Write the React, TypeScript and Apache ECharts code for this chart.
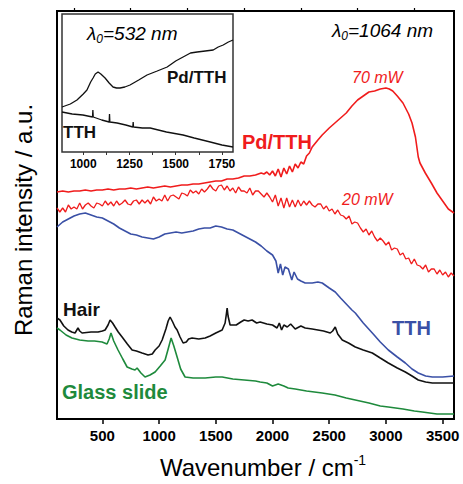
import React, { useEffect, useRef } from "react";
import * as echarts from "echarts";

const FONT = "'Liberation Sans', Arial, Helvetica, sans-serif";

// Main panel axis
const mainTickLabels = [500, 1000, 1500, 2000, 2500, 3000, 3500];
const mainMinorTicks = [250, 750, 1250, 1750, 2250, 2750, 3250];
// Inset axis
const insetTickLabels = [1000, 1250, 1500, 1750];
const insetTicks = [1000, 1125, 1250, 1375, 1500, 1625, 1750];

// Main spectra, λ0 = 1064 nm  [wavenumber, intensity (a.u.)]
const pdTth70mW = [
  [100, 227], [150, 228], [200, 227], [250, 228], [300, 228], [350, 229], [400, 228], [450, 229],
  [500, 229], [550, 230], [600, 229], [650, 230], [700, 230], [750, 231], [800, 230], [850, 231],
  [900, 232], [950, 231], [1000, 232], [1050, 233], [1100, 232], [1150, 233], [1200, 234], [1250, 234],
  [1300, 235], [1350, 235], [1400, 236], [1450, 237], [1500, 238], [1550, 238], [1600, 240], [1650, 240],
  [1700, 241], [1750, 243], [1800, 243], [1850, 244], [1900, 246], [1925, 245], [1950, 247], [1975, 244],
  [2000, 248], [2025, 243], [2050, 250], [2075, 242], [2100, 251], [2125, 245], [2150, 253], [2175, 247],
  [2200, 255], [2225, 251], [2250, 257], [2275, 255], [2300, 263], [2325, 266], [2350, 272], [2400, 279],
  [2438, 284], [2500, 291], [2580, 299], [2650, 306], [2700, 313], [2750, 319], [2800, 323], [2850, 327],
  [2900, 328], [2950, 330], [3000, 331], [3030, 330], [3060, 328], [3100, 323], [3150, 316], [3200, 305],
  [3230, 296], [3260, 282], [3285, 262], [3300, 256], [3347, 246], [3400, 236], [3450, 226], [3500, 218],
  [3550, 210], [3600, 206],
];
const pdTth20mW = [
  [100, 211], [125, 207], [150, 211], [175, 207], [200, 214], [225, 210], [250, 212], [275, 210],
  [300, 216], [325, 210], [350, 214], [375, 216], [400, 213], [425, 211], [450, 216], [475, 215],
  [500, 213], [525, 218], [550, 214], [575, 217], [600, 213], [625, 218], [650, 214], [675, 216],
  [700, 219], [725, 215], [750, 214], [775, 218], [800, 219], [825, 215], [850, 219], [875, 216],
  [900, 219], [925, 215], [950, 222], [975, 218], [1000, 220], [1025, 218], [1050, 224], [1075, 218],
  [1100, 223], [1125, 224], [1150, 222], [1175, 220], [1200, 226], [1225, 225], [1250, 223], [1275, 229],
  [1300, 226], [1325, 228], [1350, 225], [1375, 230], [1400, 227], [1425, 230], [1450, 234], [1475, 230],
  [1500, 228], [1525, 233], [1550, 234], [1575, 229], [1600, 233], [1625, 228], [1650, 231], [1675, 226],
  [1700, 232], [1725, 228], [1750, 228], [1775, 226], [1800, 231], [1825, 224], [1850, 228], [1875, 228],
  [1900, 225], [1925, 222], [1950, 226], [1975, 222], [2000, 217], [2025, 224], [2050, 213], [2075, 221],
  [2100, 211], [2125, 221], [2150, 212], [2175, 219], [2200, 212], [2225, 219], [2250, 213], [2275, 218],
  [2300, 214], [2325, 218], [2350, 214], [2375, 212], [2400, 215], [2425, 215], [2450, 210], [2475, 213],
  [2500, 208], [2525, 210], [2550, 205], [2575, 209], [2600, 204], [2625, 203], [2650, 200], [2675, 203],
  [2700, 195], [2725, 197], [2750, 196], [2775, 191], [2800, 187], [2825, 190], [2850, 184], [2875, 188],
  [2900, 182], [2925, 178], [2950, 181], [2975, 178], [3000, 174], [3025, 177], [3050, 169], [3075, 171],
  [3100, 170], [3125, 164], [3150, 166], [3175, 160], [3200, 161], [3225, 155], [3250, 160], [3275, 154],
  [3300, 153], [3325, 150], [3350, 154], [3375, 147], [3400, 150], [3425, 150], [3450, 145], [3475, 149],
  [3500, 144], [3525, 147], [3550, 142], [3575, 146], [3600, 143],
];
const tth = [
  [100, 192], [150, 197], [200, 200], [250, 203], [300, 205], [350, 206], [400, 204], [450, 202],
  [500, 201], [550, 198], [600, 195], [650, 191], [700, 188], [750, 185], [800, 184], [850, 182],
  [900, 181], [950, 180], [1000, 182], [1050, 185], [1100, 186], [1150, 187], [1200, 186], [1250, 187],
  [1300, 188], [1350, 190], [1400, 191], [1450, 191], [1500, 193], [1550, 192], [1600, 190], [1650, 189],
  [1700, 186], [1750, 183], [1800, 180], [1850, 177], [1900, 173], [1950, 168], [2000, 164], [2030, 158],
  [2050, 146], [2070, 155], [2090, 144], [2110, 152], [2140, 150], [2170, 139], [2190, 147], [2220, 140],
  [2250, 138], [2288, 136], [2350, 136], [2400, 137], [2438, 136], [2500, 131], [2553, 127], [2600, 121],
  [2650, 115], [2700, 109], [2730, 106], [2800, 96], [2880, 86], [2950, 77], [3021, 69], [3100, 62],
  [3171, 56], [3230, 50], [3285, 46], [3350, 43], [3409, 42], [3500, 42], [3600, 43],
];
const hair = [
  [100, 101], [126, 99], [160, 93], [197, 89], [230, 87], [259, 86], [285, 91], [300, 88], [321, 86],
  [400, 87], [462, 87], [500, 88], [524, 89], [550, 94], [568, 99], [590, 96], [612, 92], [640, 87],
  [674, 82], [720, 75], [762, 69], [800, 68], [850, 66], [903, 64], [940, 65], [965, 69], [1000, 73],
  [1027, 79], [1060, 90], [1080, 98], [1097, 102], [1120, 97], [1140, 92], [1159, 89], [1185, 82],
  [1212, 76], [1240, 77], [1260, 80], [1291, 81], [1350, 80], [1406, 81], [1450, 83], [1500, 86],
  [1556, 89], [1582, 96], [1592, 104], [1600, 111], [1608, 103], [1626, 94], [1680, 94], [1720, 97],
  [1750, 99], [1785, 98], [1820, 99], [1860, 96], [1891, 97], [1950, 95], [2000, 94], [2040, 91],
  [2060, 96], [2080, 89], [2100, 94], [2130, 92], [2160, 95], [2200, 90], [2250, 93], [2288, 91],
  [2350, 90], [2400, 89], [2450, 88], [2509, 86], [2530, 88], [2553, 92], [2575, 85], [2615, 79],
  [2670, 76], [2730, 72], [2800, 69], [2880, 66], [2950, 61], [3021, 56], [3100, 51], [3171, 47],
  [3230, 43], [3285, 39], [3350, 37], [3409, 36], [3500, 36], [3600, 36],
];
const glassSlide = [
  [100, 91], [126, 89], [180, 84], [232, 81], [300, 79], [374, 78], [430, 78], [497, 77], [541, 75],
  [560, 80], [576, 86], [600, 78], [638, 69], [680, 60], [718, 52], [760, 50], [788, 49], [806, 51],
  [840, 46], [876, 42], [920, 44], [965, 47], [1010, 53], [1053, 59], [1080, 70], [1106, 81], [1130, 73],
  [1159, 62], [1190, 50], [1229, 42], [1300, 41], [1406, 41], [1500, 42], [1556, 42], [1650, 40],
  [1750, 39], [1850, 38], [1891, 37], [1950, 36], [2000, 33], [2050, 35], [2100, 33], [2138, 31],
  [2200, 30], [2300, 28], [2438, 26], [2550, 24], [2650, 21], [2730, 19], [2850, 16], [2950, 13],
  [3021, 12], [3150, 10], [3250, 8], [3321, 7], [3450, 5], [3600, 5],
];

// Inset spectra, λ0 = 532 nm
const insetPdTth = [
  [885, 45], [930, 48], [966, 52], [1000, 58], [1020, 62], [1040, 70], [1053, 74], [1065, 78], [1080, 80],
  [1095, 78], [1118, 74], [1140, 69], [1161, 65], [1180, 64], [1199, 64], [1225, 65], [1253, 67],
  [1300, 72], [1345, 77], [1400, 81], [1454, 85], [1500, 91], [1540, 95], [1580, 99], [1616, 100],
  [1660, 101], [1703, 102], [1730, 105], [1757, 107], [1785, 110], [1810, 112],
];
const insetTth = [
  [885, 40], [940, 38], [998, 37], [1050, 35], [1052, 42], [1054, 35], [1100, 32], [1140, 30], [1142, 38],
  [1144, 30], [1183, 29], [1230, 27], [1268, 25], [1270, 30], [1272, 25], [1320, 24], [1362, 24],
  [1450, 20], [1540, 17], [1600, 14], [1687, 10], [1750, 7], [1810, 5],
];

const RED = "#f01c1c";
const BLUE = "#3a50a6";
const GREEN = "#1e8a3c";
const BLACK = "#111111";

function line(data: number[][], color: string, xi: number, yi: number, width = 1.6) {
  return {
    type: "line",
    data,
    xAxisIndex: xi,
    yAxisIndex: yi,
    showSymbol: false,
    symbol: "none",
    silent: true,
    lineStyle: { color, width },
    itemStyle: { color },
  };
}

function label(text: string, x: number, y: number, color: string, size: number, weight = "bold", style = "normal", align = "left") {
  return {
    type: "text",
    x,
    y,
    silent: true,
    z: 100,
    style: {
      text,
      fill: color,
      fontFamily: FONT,
      fontSize: size,
      fontWeight: weight,
      fontStyle: style,
      textAlign: align,
      textVerticalAlign: "middle",
    },
  };
}

function lambdaLabel(value: string, x: number, y: number, size: number) {
  return {
    type: "text",
    x,
    y,
    silent: true,
    z: 100,
    style: {
      text: `{a|λ}{s|0}{a|=${value} nm}`,
      fill: "#000",
      textAlign: "left",
      textVerticalAlign: "middle",
      rich: {
        a: { fontFamily: FONT, fontSize: size, fontStyle: "italic", lineHeight: size + 4, verticalAlign: "middle", fill: "#000" },
        s: { fontFamily: FONT, fontSize: Math.round(size * 0.65), fontStyle: "italic", lineHeight: size + 4, verticalAlign: "bottom", fill: "#000" },
      },
    },
  };
}

const plain = (v: number) => String(v);

export default function App() {
  const ref = useRef<HTMLDivElement>(null);
  useEffect(() => {
    if (!ref.current) return;
    const chart = echarts.init(ref.current, undefined, { renderer: "svg" });
    chart.setOption({
      animation: false,
      backgroundColor: "#fff",
      grid: [
        { left: 57, top: 11, width: 397, height: 408, show: true, borderColor: "#000", borderWidth: 2, backgroundColor: "transparent" },
        { left: 62, top: 14, width: 171, height: 138, show: true, borderColor: "#333", borderWidth: 1.5, backgroundColor: "#fff" },
      ],
      xAxis: [
        {
          gridIndex: 0, type: "value", min: 100, max: 3600,
          axisLine: { show: false },
          axisTick: { show: true, customValues: mainTickLabels, length: 5, lineStyle: { color: "#000", width: 1.5 } },
          axisLabel: { customValues: mainTickLabels, formatter: plain, fontFamily: FONT, fontSize: 15, fontWeight: "bold", color: "#000", margin: 9 },
          splitLine: { show: false },
        },
        {
          gridIndex: 0, type: "value", min: 100, max: 3600,
          axisLine: { show: false },
          axisTick: { show: true, customValues: mainMinorTicks, length: 3, lineStyle: { color: "#000", width: 1.2 } },
          axisLabel: { show: false },
          splitLine: { show: false },
        },
        {
          gridIndex: 1, type: "value", min: 885, max: 1810,
          axisLine: { show: false },
          axisTick: { show: true, customValues: insetTicks, length: 3, lineStyle: { color: "#333", width: 1 } },
          axisLabel: { customValues: insetTickLabels, formatter: plain, fontFamily: FONT, fontSize: 12, fontWeight: "bold", color: "#000", margin: 6 },
          splitLine: { show: false },
        },
      ],
      yAxis: [
        { gridIndex: 0, type: "value", min: 0, max: 408, show: false },
        { gridIndex: 1, type: "value", min: 0, max: 138, show: false },
      ],
      series: [
        line(glassSlide, GREEN, 0, 0),
        line(hair, BLACK, 0, 0),
        line(tth, BLUE, 0, 0),
        line(pdTth20mW, RED, 0, 0, 1.3),
        line(pdTth70mW, RED, 0, 0),
        line(insetPdTth, BLACK, 2, 1, 1.3),
        line(insetTth, BLACK, 2, 1, 1.3),
      ],
      graphic: [
        lambdaLabel("532", 87, 33, 19),
        lambdaLabel("1064", 332, 30, 19),
        label("Pd/TTH", 167, 77, BLACK, 17),
        label("TTH", 63, 132, BLACK, 17),
        label("70 mW", 352, 77, RED, 16, "normal", "italic"),
        label("Pd/TTH", 242, 142, RED, 20),
        label("20 mW", 342, 199, RED, 16, "normal", "italic"),
        label("TTH", 392, 328, BLUE, 20),
        label("Hair", 63, 309, BLACK, 19),
        label("Glass slide", 62, 392, GREEN, 20),
        {
          type: "text", x: 263, y: 467, silent: true, z: 100,
          style: {
            text: "{a|Wavenumber / cm}{b|-1}",
            textAlign: "center", textVerticalAlign: "middle", fill: "#000",
            rich: {
              a: { fontFamily: FONT, fontSize: 24, lineHeight: 28, verticalAlign: "middle", fill: "#000" },
              b: { fontFamily: FONT, fontSize: 14, lineHeight: 28, verticalAlign: "top", fill: "#000" },
            },
          },
        },
        {
          type: "text", x: 23, y: 220, rotation: Math.PI / 2, silent: true, z: 100,
          style: {
            text: "Raman intensity / a.u.",
            fill: "#000", fontFamily: FONT, fontSize: 24,
            textAlign: "center", textVerticalAlign: "middle",
          },
        },
      ],
    });
    return () => chart.dispose();
  }, []);
  return <div ref={ref} style={{ width: 463, height: 484, position: "absolute", left: 0, top: 0 }} />;
}
